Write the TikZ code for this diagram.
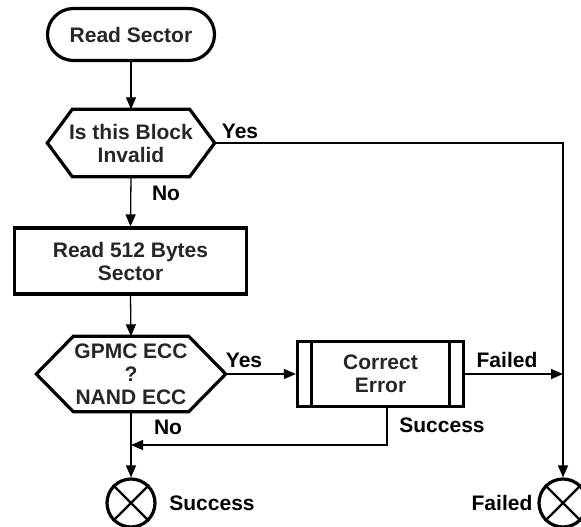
\documentclass[tikz,border=0pt]{standalone}
\usepackage{fontspec}
\setmainfont{Liberation Sans}
\usetikzlibrary{arrows.meta}
\begin{document}
\begin{tikzpicture}[x=1pt,y=-1pt,
  txt/.style={font=\fontsize{21}{23}\selectfont\bfseries, text=black!85, align=center, inner sep=0pt},
  shp/.style={draw=black, line width=3.2pt, line join=miter},
  conn/.style={draw=black, line width=1.3pt, -{Triangle[length=12pt,width=10pt]}},
  lbl/.style={font=\fontsize{21}{23}\selectfont\bfseries, text=black, inner sep=0pt},
]
\useasboundingbox (0,0) rectangle (581,527);

% terminator
\node[txt, shp, rounded corners=26pt, minimum width=167pt, minimum height=52pt] (start) at (131,34.5) {Read Sector};

% decision 1
\node[txt, minimum width=167pt, minimum height=67pt] (dec1) at (131,143) {Is this Block\\Invalid};
\draw[shp] (dec1.west) -- ([xshift=25pt]dec1.north west) -- ([xshift=-25pt]dec1.north east) -- (dec1.east)
  -- ([xshift=-25pt]dec1.south east) -- ([xshift=25pt]dec1.south west) -- cycle;

% process
\node[txt, shp, minimum width=232pt, minimum height=66pt] (read) at (130.5,261) {Read 512 Bytes\\Sector};

% decision 2
\node[txt, minimum width=189pt, minimum height=75pt] (dec2) at (131,374) {GPMC ECC\\?\\NAND ECC};
\draw[shp] (dec2.west) -- ([xshift=37pt]dec2.north west) -- ([xshift=-37pt]dec2.north east) -- (dec2.east)
  -- ([xshift=-37pt]dec2.south east) -- ([xshift=37pt]dec2.south west) -- cycle;

% predefined process
\node[txt, shp, minimum width=166pt, minimum height=65pt] (corr) at (380.5,374) {Correct\\Error};
\draw[shp] ([xshift=15.5pt]corr.north west) -- ([xshift=15.5pt]corr.south west);
\draw[shp] ([xshift=-15.5pt]corr.north east) -- ([xshift=-15.5pt]corr.south east);

% end circles
\node[shp, circle, minimum size=48pt, inner sep=0pt] (succ) at (131,503) {};
\draw[line width=2.2pt] (succ.north west) -- (succ.south east) (succ.north east) -- (succ.south west);
\node[shp, circle, minimum size=48pt, inner sep=0pt] (fail) at (563,503) {};
\draw[line width=2.2pt] (fail.north west) -- (fail.south east) (fail.north east) -- (fail.south west);

% junctions
\coordinate (cfail) at (563,143);
\coordinate (jfail) at (563,374);
\coordinate (jsucc) at (131,445);
\coordinate (csucc) at (387,445);

% connectors
\draw[conn] (start.south) -- (dec1.north);
\draw[conn] (dec1.south) -- (read.north);
\draw[conn] (read.south) -- (dec2.north);
\draw[conn] (dec2.east) -- (corr.west);
\draw[conn] (dec1.east) -- (cfail) -- (fail.north);
\draw[conn] (corr.east) -- (jfail);
\draw[conn] (corr.south -| csucc) -- (csucc) -- (jsucc);
\draw[conn] (dec2.south) -- (succ.north);

% labels
\node[lbl] (lyes1) at (240,131) {Yes};
\node[lbl] (lno1) at (166,193) {No};
\node[lbl] (lyes2) at (244,360) {Yes};
\node[lbl] (lfailed1) at (507,360) {Failed};
\node[lbl] (lsucc1) at (442,425) {Success};
\node[lbl] (lno2) at (168,427) {No};
\node[lbl] (lsucc2) at (212,503) {Success};
\node[lbl] (lfailed2) at (502,503) {Failed};
\end{tikzpicture}
\end{document}
